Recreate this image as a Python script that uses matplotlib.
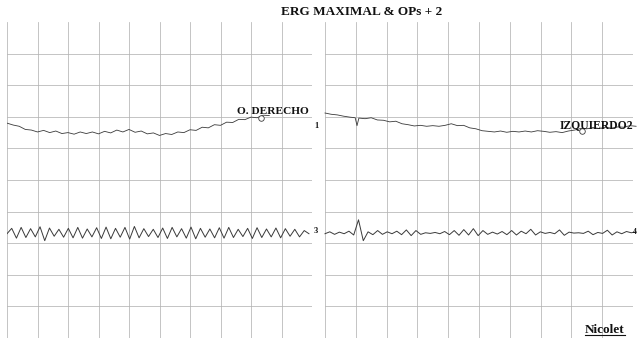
import numpy as np
import matplotlib
matplotlib.use('Agg')
from matplotlib import pyplot as plt
from matplotlib.lines import Line2D

# time in ms (10 ms / division), amplitude in divisions
left_t1 = np.arange(0, 88, 2)
left_v1 = [6.80, 6.74, 6.70, 6.60, 6.58, 6.52, 6.57, 6.50, 6.55, 6.47,
           6.50, 6.45, 6.52, 6.47, 6.52, 6.46, 6.54, 6.49, 6.58, 6.52,
           6.60, 6.51, 6.55, 6.46, 6.49, 6.41, 6.47, 6.44, 6.52, 6.50,
           6.59, 6.57, 6.67, 6.65, 6.75, 6.73, 6.83, 6.82, 6.92, 6.91,
           6.99, 6.97, 7.05, 7.04]

left_v3 = [3.30, 3.47, 3.16, 3.50, 3.18, 3.46, 3.20, 3.52, 3.08, 3.48,
           3.22, 3.44, 3.19, 3.47, 3.17, 3.50, 3.16, 3.45, 3.20, 3.49,
           3.15, 3.51, 3.14, 3.47, 3.19, 3.50, 3.13, 3.53, 3.17, 3.46,
           3.21, 3.44, 3.18, 3.48, 3.15, 3.50, 3.20, 3.46, 3.16, 3.51,
           3.14, 3.47, 3.19, 3.45, 3.17, 3.49, 3.16, 3.50, 3.18, 3.44,
           3.21, 3.47, 3.15, 3.49, 3.18, 3.45, 3.20, 3.48, 3.17, 3.46,
           3.22, 3.44, 3.20, 3.40, 3.30]
left_t3 = np.linspace(0, 99, len(left_v3))

right_t1 = [0, 2, 4, 6, 8, 9.8, 10.4, 11, 13, 15, 17, 19, 21, 23, 25, 27,
            29, 31, 33, 35, 37, 39, 41, 43, 45, 47, 49, 51, 53, 55, 57, 59,
            61, 63, 65, 67, 69, 71, 73, 75, 77, 79, 81, 83, 85, 87, 89, 91,
            93, 95, 97, 99, 101]
right_v1 = [7.12, 7.08, 7.06, 7.02, 6.99, 6.97, 6.72, 6.96, 6.94, 6.97,
            6.90, 6.89, 6.84, 6.86, 6.78, 6.75, 6.71, 6.73, 6.70, 6.72,
            6.70, 6.73, 6.78, 6.72, 6.73, 6.65, 6.62, 6.56, 6.54, 6.52,
            6.55, 6.51, 6.54, 6.52, 6.55, 6.52, 6.56, 6.54, 6.51, 6.53,
            6.50, 6.55, 6.58, 6.63, 6.62, 6.66, 6.63, 6.67, 6.64, 6.68,
            6.67, 6.72, 6.70]

right_v3 = [3.30, 3.36, 3.28, 3.35, 3.30, 3.38, 3.26, 3.74, 3.08, 3.36,
            3.27, 3.40, 3.28, 3.36, 3.30, 3.38, 3.27, 3.42, 3.24, 3.40,
            3.28, 3.33, 3.31, 3.34, 3.30, 3.37, 3.27, 3.40, 3.25, 3.43,
            3.26, 3.46, 3.24, 3.40, 3.28, 3.35, 3.29, 3.37, 3.27, 3.40,
            3.26, 3.38, 3.30, 3.44, 3.26, 3.36, 3.31, 3.34, 3.30, 3.42,
            3.25, 3.35, 3.32, 3.33, 3.31, 3.38, 3.27, 3.34, 3.31, 3.41,
            3.26, 3.36, 3.30, 3.37, 3.33, 3.36]
right_t3 = np.linspace(0, 101, len(right_v3))

cursor_left = (83.3, 6.96)
cursor_right = (83.4, 6.55)

grid_col = '#b4b4b4'
trace_col = '#3a3a3a'
serif = ['Liberation Serif', 'DejaVu Serif']

fig = plt.figure(figsize=(6.37, 3.39), dpi=100)
fig.patch.set_facecolor('white')


def make_panel(rect):
    ax = fig.add_axes(rect)
    ax.set_xlim(0, 100)
    ax.set_ylim(0, 10)
    for s in ax.spines.values():
        s.set_visible(False)
    ax.set_xticks([])
    ax.set_yticks([])
    for x in range(0, 100, 10):
        ax.axvline(x, color=grid_col, lw=0.55, zorder=1)
    for y in range(0, 10):
        ax.axhline(y, color=grid_col, lw=0.55, zorder=1)
    return ax


axl = make_panel([7 / 637, 1 / 339, 305 / 637, 316 / 339])
axr = make_panel([325 / 637, 1 / 339, 308 / 637, 316 / 339])

axl.plot(left_t1, left_v1, color=trace_col, lw=0.6, zorder=3)
axl.plot(left_t3, left_v3, color=trace_col, lw=0.7, zorder=3)
axr.plot(right_t1, right_v1, color=trace_col, lw=0.6, zorder=3, clip_on=False)
axr.plot(right_t3, right_v3, color=trace_col, lw=0.7, zorder=3, clip_on=False)

axl.plot(*cursor_left, marker='o', ms=4, mfc='white', mec=trace_col, mew=0.6, zorder=4)
axr.plot(*cursor_right, marker='o', ms=4, mfc='white', mec=trace_col, mew=0.6, zorder=4)

lab = dict(family=serif, fontweight='bold', fontsize=8.2, color='#111111', zorder=5)
axl.text(75.4, 7.18, 'O. DERECHO', ha='left', va='center', **lab)
axl.text(100.6, 6.71, '1', ha='left', va='center', clip_on=False, **dict(lab, fontsize=6))
axl.text(100.6, 3.40, '3', ha='left', va='center', clip_on=False, **dict(lab, fontsize=6))
axr.text(76.3, 6.74, 'IZQUIERDO2', ha='left', va='center', clip_on=False, **dict(lab, fontsize=8.4))
axr.text(100.1, 3.36, '4', ha='left', va='center', clip_on=False, **dict(lab, fontsize=5.5))

fig.text(362 / 637, 1 - 12 / 339, 'ERG MAXIMAL & OPs + 2', ha='center', va='center',
         family=serif, fontweight='bold', fontsize=9.5, color='#111111')

nic = fig.text(605 / 637, 1 - 330 / 339, 'Nicolet', ha='center', va='center',
               family=serif, fontweight='bold', fontsize=9.5, color='#111111')
fig.canvas.draw()
bb = nic.get_window_extent().transformed(fig.transFigure.inverted())
fig.add_artist(Line2D([bb.x0, bb.x1], [bb.y0 + 0.004, bb.y0 + 0.004],
                      transform=fig.transFigure, color='#111111', lw=0.8))

fig.savefig('out.png', dpi=100)
